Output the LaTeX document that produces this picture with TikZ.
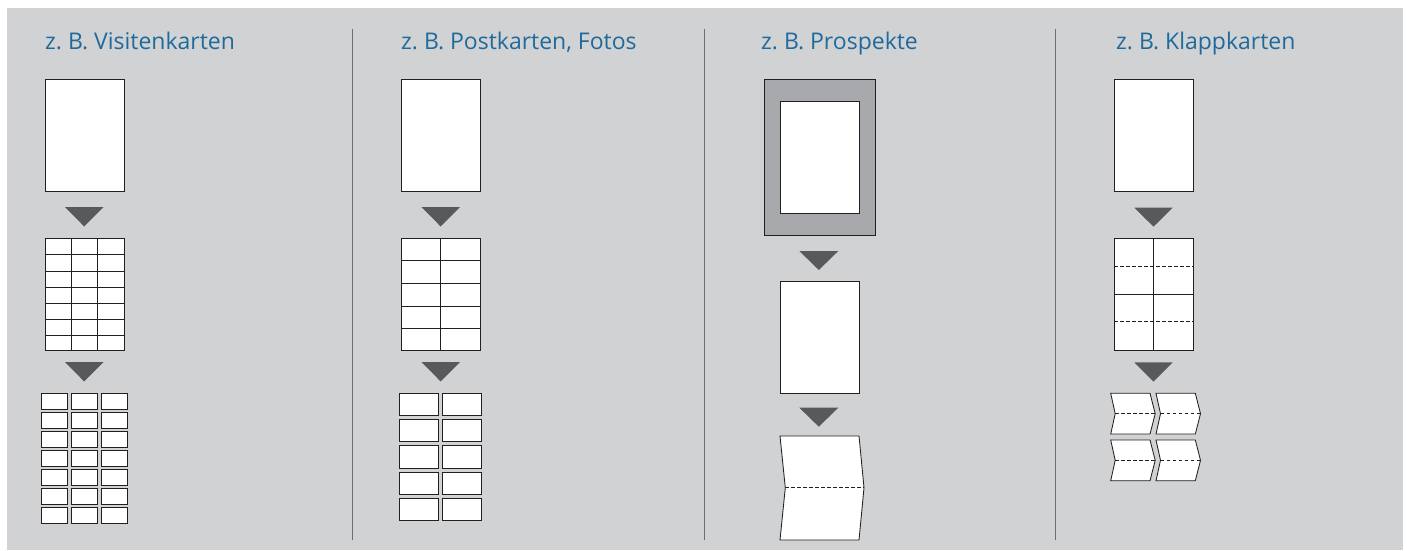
\documentclass[tikz,border=0pt]{standalone}
\usepackage{fontspec}
\setmainfont{Open Sans}
\frenchspacing
\definecolor{bggray}{HTML}{D1D2D4}
\definecolor{titleblue}{HTML}{1F6A9C}
\definecolor{trigray}{HTML}{58595B}
\definecolor{framegray}{HTML}{A8A9AC}
\definecolor{linegray}{HTML}{231F20}
\definecolor{divgray}{HTML}{6D6E71}
\tikzset{
  sheet/.style={draw=linegray,fill=white,line width=0.85pt},
  cut/.style={draw=linegray,line width=0.75pt},
  fold/.style={draw=linegray,line width=0.75pt,dash pattern=on 3.5pt off 2.5pt},
  tri/.style={fill=trigray,draw=none},
  divider/.style={draw=divgray,line width=1.3pt},
  title/.style={anchor=base west,inner sep=0pt,text=titleblue,font=\fontsize{23}{26}\selectfont}
}
\begin{document}
\begin{tikzpicture}[x=1pt,y=-1pt]
\useasboundingbox (0,0) rectangle (1407,550);
\fill[bggray] (7,8) rectangle (1403,550);
% dividers
\coordinate (d1t) at (352.3,29); \coordinate (d1b) at (352.3,540);
\coordinate (d2t) at (704.3,29); \coordinate (d2b) at (704.3,540);
\coordinate (d3t) at (1055.7,29); \coordinate (d3b) at (1055.7,540);
\draw[divider] (d1t) -- (d1b);
\draw[divider] (d2t) -- (d2b);
\draw[divider] (d3t) -- (d3b);
% titles
\node[title] (t1) at (45,49) {z. B. Visitenkarten};
\node[title] (t2) at (401,49) {z. B. Postkarten, Fotos};
\node[title] (t3) at (761,49) {z. B. Prospekte};
\node[title] (t4) at (1116,49) {z. B. Klappkarten};

% ---------- column 1 ----------
\path[sheet] (45,79) rectangle (124,191);
\fill[tri] (65,207) -- (103.5,207) -- (84.2,226.5) -- cycle;
\path[sheet] (45,238) rectangle (124,350);
\foreach \x in {71,97} \draw[cut] (\x,238) -- (\x,350);
\foreach \y in {254.8,271,287.7,303.3,319.3,335.3} \draw[cut] (45,\y) -- (124,\y);
\fill[tri] (65,362) -- (103.5,362) -- (84.2,381.5) -- cycle;
\foreach \r in {0,...,6}{
  \foreach \x in {41,71,101}{
    \path[sheet] (\x,393.3+19*\r) rectangle (\x+26,393.3+19*\r+15.7);
  }
}

% ---------- column 2 ----------
\path[sheet] (401,79) rectangle (480,191);
\fill[tri] (421.5,207) -- (460,207) -- (440.7,226.5) -- cycle;
\path[sheet] (401,238) rectangle (480,350);
\draw[cut] (440.3,238) -- (440.3,350);
\foreach \y in {260.3,283,306,328.7} \draw[cut] (401,\y) -- (480,\y);
\fill[tri] (421.5,362) -- (460,362) -- (440.7,381.5) -- cycle;
\foreach \r in {0,...,4}{
  \foreach \x in {399.7,442.5}{
    \path[sheet] (\x,393.3+26.3*\r) rectangle (\x+39,393.3+26.3*\r+22.3);
  }
}

% ---------- column 3 ----------
\path[draw=linegray,fill=framegray,line width=0.85pt] (764.3,79.3) rectangle (875,235);
\path[sheet] (780.3,101.3) rectangle (859,213.3);
\fill[tri] (799.3,251) -- (838.3,251) -- (818.8,270) -- cycle;
\path[sheet] (780,281.7) rectangle (859,393.3);
\fill[tri] (799.3,407.7) -- (838.3,407.7) -- (818.8,426.7) -- cycle;
\path[sheet] (780,436) -- (859,436) -- (864,487.7) -- (859,540) -- (780,540) -- (785.3,487.7) -- cycle;
\draw[fold] (785.3,487.7) -- (864,487.7);

% ---------- column 4 ----------
\path[sheet] (1114.3,79.3) rectangle (1193.3,191);
\fill[tri] (1134.3,207.7) -- (1172.7,207.7) -- (1153.5,226.7) -- cycle;
\path[sheet] (1114.3,238.3) rectangle (1193.3,350);
\draw[cut] (1153.5,238.3) -- (1153.5,350);
\draw[cut] (1114.3,294) -- (1193.3,294);
\draw[fold] (1114.3,266) -- (1193.3,266);
\draw[fold] (1114.3,321.7) -- (1193.3,321.7);
\fill[tri] (1134.3,362.3) -- (1172.7,362.3) -- (1153.5,381.7) -- cycle;
\foreach \yt/\ym/\yb in {393.3/413.7/434, 440/460.3/480.7}{
  \foreach \xl in {1110.7,1156}{
    \path[sheet] (\xl,\yt) -- (\xl+39.3,\yt) -- (\xl+44.5,\ym) -- (\xl+39.3,\yb) -- (\xl,\yb) -- (\xl+4.5,\ym) -- cycle;
    \draw[fold] (\xl+4.5,\ym) -- (\xl+44.5,\ym);
  }
}
\end{tikzpicture}
\end{document}
